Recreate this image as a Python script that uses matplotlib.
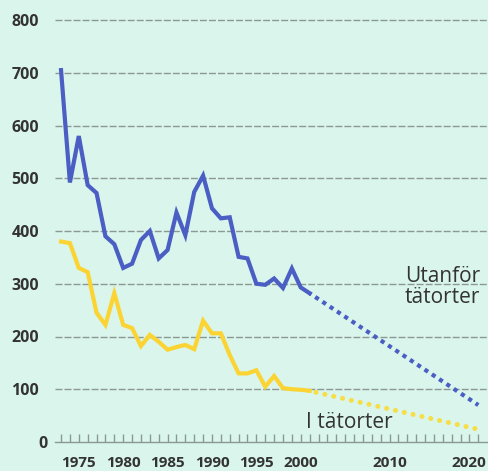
import matplotlib
matplotlib.use("Agg")
import matplotlib.pyplot as plt
from matplotlib.ticker import FixedLocator
from matplotlib.transforms import ScaledTranslation

# ---- data ----
years = list(range(1973, 2002))
utanfor = [705, 492, 580, 487, 472, 390, 375, 330, 338, 383, 400, 348, 364, 435,
           392, 474, 505, 443, 424, 426, 351, 348, 300, 298, 310, 292, 329, 293, 282]
i_tatorter = [380, 377, 330, 322, 245, 222, 282, 222, 216, 182, 203, 190, 175, 180,
              184, 176, 230, 206, 206, 165, 130, 130, 136, 105, 125, 102, 100, 99, 97]
proj_years = [2001, 2020]
proj_utanfor = [282, 70]
proj_i_tatorter = [97, 24]

ytick_vals = [0, 100, 200, 300, 400, 500, 600, 700, 800]
ytick_labels = ["0", "100", "200", "300", "400", "500", "600", "700", "800"]
xtick_vals = [1975, 1980, 1985, 1990, 1995, 2000, 2010, 2020]
xtick_labels = ["1975", "1980", "1985", "1990", "1995", "2000", "2010", "2020"]

# ---- style ----
BG = "#d9f5ec"
BLUE = "#4a5ec3"
YELLOW = "#fbd433"
YELLOW_DOT = "#f7de45"
GRID = "#8c9892"
TXT = "#333333"
FONT = "Open Sans"

W, H = 488, 471
fig = plt.figure(figsize=(W / 100, H / 100), dpi=100)
fig.patch.set_facecolor(BG)
ax = fig.add_axes([55 / W, 29 / H, (W - 55) / W, (442 - 20) / H])
ax.set_facecolor(BG)

ax.set_xlim(1972.32, 2021.09)
ax.set_ylim(0, 800)

# gridlines
for v in ytick_vals[1:]:
    ax.axhline(v, color=GRID, lw=1.0, ls=(0, (5, 1.5)), zorder=1, clip_on=False)
ax.axhline(0, color=GRID, lw=1.0, zorder=1, clip_on=False)

# series
ax.plot(years, i_tatorter, color=YELLOW, lw=3.0, solid_joinstyle="miter", zorder=3, clip_on=False)
ax.plot(years, utanfor, color=BLUE, lw=3.0, solid_joinstyle="miter", zorder=3, clip_on=False)
ax.plot(proj_years, proj_utanfor, color=BLUE, lw=3.0, ls=(0.5, (1, 1.1)),
        dash_capstyle="butt", zorder=3, clip_on=False)
ax.plot(proj_years, proj_i_tatorter, color=YELLOW_DOT, lw=3.6, ls=(0.5, (0.01, 1.8)),
        dash_capstyle="round", zorder=3, clip_on=False)

for s in ax.spines.values():
    s.set_visible(False)

# y ticks
ax.set_yticks(ytick_vals, ytick_labels)
ax.tick_params(axis="y", length=0, pad=11.5, labelsize=11.5, labelcolor=TXT)
for lbl in ax.get_yticklabels():
    lbl.set_fontfamily(FONT)
    lbl.set_fontweight("bold")
    if lbl.get_text() == "0":
        lbl.set_transform(lbl.get_transform() + ScaledTranslation(6 / 72, 0, fig.dpi_scale_trans))

# x ticks
ax.set_xticks(xtick_vals, xtick_labels)
ax.xaxis.set_minor_locator(FixedLocator(list(range(1973, 2021))))
ax.tick_params(axis="x", which="both", direction="in", length=6, width=1.0,
               color=GRID, pad=10, labelsize=11, labelcolor=TXT)
for lbl in ax.get_xticklabels():
    lbl.set_fontfamily(FONT)
    lbl.set_fontweight("bold")
    if lbl.get_text() == "2020":
        lbl.set_transform(lbl.get_transform() + ScaledTranslation(-7 / 72, 0, fig.dpi_scale_trans))
for t in ax.xaxis.get_major_ticks() + ax.xaxis.get_minor_ticks():
    t.tick1line.set_clip_on(False)

# annotations
ax.text(2020.2, 263, "Utanför\ntätorter", ha="right", va="baseline", fontsize=15,
        family=FONT, color=TXT, linespacing=1.0, zorder=4)
ax.text(2005.5, 26, "I tätorter", ha="center", va="baseline", fontsize=15,
        family=FONT, color=TXT, zorder=4)

fig.savefig("out.png", dpi=100, facecolor=BG)
